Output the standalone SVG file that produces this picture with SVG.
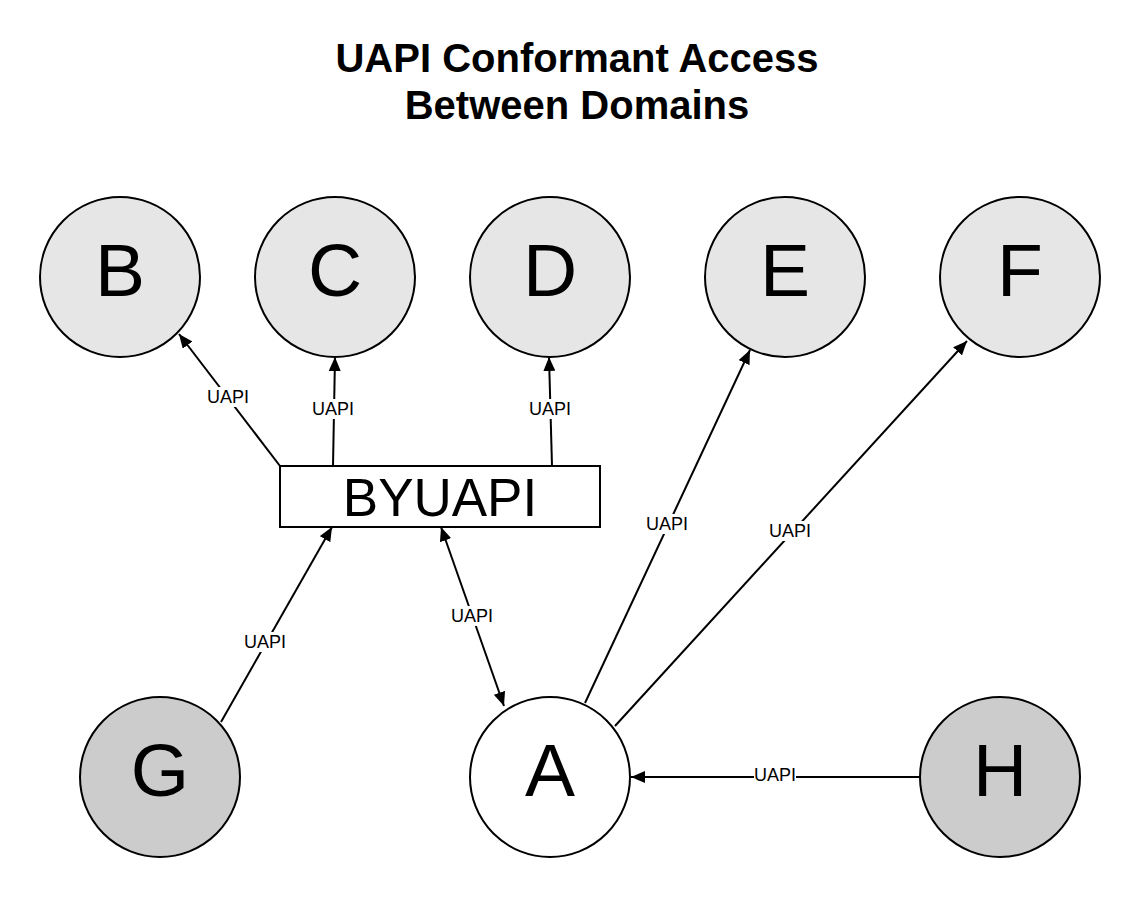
<svg xmlns="http://www.w3.org/2000/svg" width="1140" height="897" viewBox="0 0 1140 897">
<style>
.n{stroke:#000;stroke-width:2}
.lt{fill:#e6e6e6}
.dk{fill:#cccccc}
.wh{fill:#fff}
.big{font-family:"Liberation Sans",Arial,sans-serif;font-size:75px;text-anchor:middle;fill:#000}
.title{font-family:"Liberation Sans",Arial,sans-serif;font-size:40px;font-weight:bold;text-anchor:middle;fill:#000}
.c{stroke:#000;stroke-width:2;fill:none}
.lb{font-family:"Liberation Sans",Arial,sans-serif;font-size:18px;text-anchor:middle;fill:#000}
.bg{fill:#fff}
</style>
<defs>
<marker id="ah" viewBox="0 0 14 12" refX="14" refY="6" markerWidth="14" markerHeight="12" markerUnits="userSpaceOnUse" orient="auto-start-reverse">
<path d="M0,0 L14,6 L0,12 z" fill="#000"/>
</marker>
</defs>
<rect width="1140" height="897" fill="#fff"/>
<g id="title">
<text class="title" x="577" y="72">UAPI Conformant Access</text>
<text class="title" x="577" y="119">Between Domains</text>
</g>
<g id="connectors">
<line class="c" x1="280" y1="466" x2="179" y2="334" marker-end="url(#ah)"/>
<line class="c" x1="333" y1="466" x2="335" y2="357" marker-end="url(#ah)"/>
<line class="c" x1="552" y1="466" x2="549" y2="357" marker-end="url(#ah)"/>
<line class="c" x1="221" y1="722" x2="332" y2="527" marker-end="url(#ah)"/>
<line class="c" x1="441" y1="527" x2="504" y2="706" marker-start="url(#ah)" marker-end="url(#ah)"/>
<line class="c" x1="585" y1="703" x2="750" y2="350" marker-end="url(#ah)"/>
<line class="c" x1="615" y1="726" x2="967" y2="341" marker-end="url(#ah)"/>
<line class="c" x1="920" y1="777" x2="631" y2="777" marker-end="url(#ah)"/>
<rect class="bg" x="206" y="387" width="44" height="20"/><text class="lb" x="228" y="403">UAPI</text>
<rect class="bg" x="311" y="399" width="44" height="20"/><text class="lb" x="333" y="415">UAPI</text>
<rect class="bg" x="528" y="399" width="44" height="20"/><text class="lb" x="550" y="415">UAPI</text>
<rect class="bg" x="243" y="632" width="44" height="20"/><text class="lb" x="265" y="648">UAPI</text>
<rect class="bg" x="450" y="606" width="44" height="20"/><text class="lb" x="472" y="622">UAPI</text>
<rect class="bg" x="645" y="514" width="44" height="20"/><text class="lb" x="667" y="530">UAPI</text>
<rect class="bg" x="768" y="521" width="44" height="20"/><text class="lb" x="790" y="537">UAPI</text>
<rect class="bg" x="754" y="766" width="42" height="18"/><text class="lb" x="775" y="781">UAPI</text>
</g>
<g id="node-B"><circle class="n lt" cx="120" cy="277" r="80"/><text class="big" x="120" y="296">B</text></g>
<g id="node-C"><circle class="n lt" cx="335" cy="277" r="80"/><text class="big" x="335" y="296">C</text></g>
<g id="node-D"><circle class="n lt" cx="550" cy="277" r="80"/><text class="big" x="550" y="296">D</text></g>
<g id="node-E"><circle class="n lt" cx="785" cy="277" r="80"/><text class="big" x="785" y="296">E</text></g>
<g id="node-F"><circle class="n lt" cx="1020" cy="277" r="80"/><text class="big" x="1020" y="296">F</text></g>
<g id="node-BYUAPI"><rect class="n wh" x="280" y="466" width="320" height="61"/><text class="big" style="font-size:53px" x="440" y="516">BYUAPI</text></g>
<g id="node-G"><circle class="n dk" cx="160" cy="777" r="80"/><text class="big" x="160" y="796">G</text></g>
<g id="node-A"><circle class="n wh" cx="550" cy="777" r="80"/><text class="big" x="550" y="796">A</text></g>
<g id="node-H"><circle class="n dk" cx="1000" cy="777" r="80"/><text class="big" x="1000" y="796">H</text></g>
</svg>
